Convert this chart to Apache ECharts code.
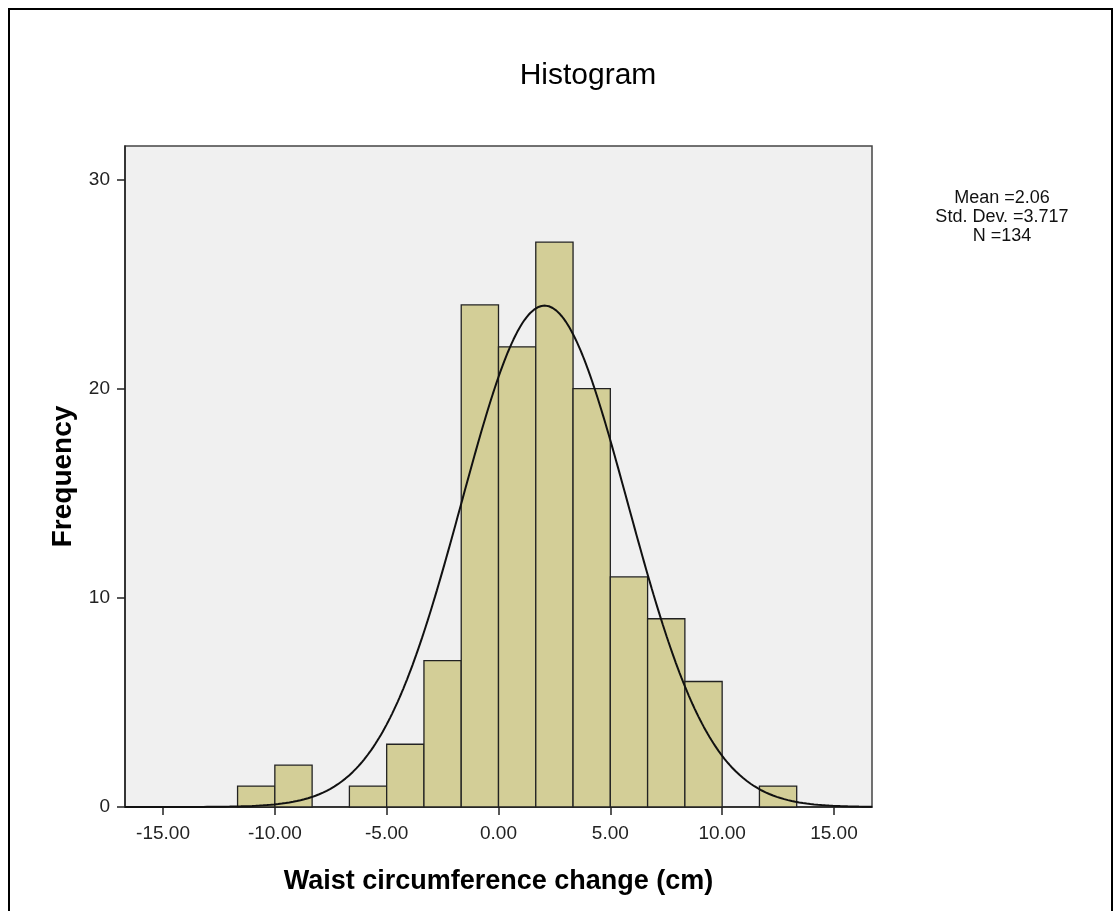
<!DOCTYPE html>
<html>
<head>
<meta charset="utf-8">
<script src="https://cdn.jsdelivr.net/npm/echarts@6/dist/echarts.min.js"></script>
<style>
html,body{margin:0;padding:0;background:#fff;}
#chart{width:1114px;height:911px;}
</style>
</head>
<body>
<div id="chart"></div>
<script>
// ---- data ----
var binWidth = 5 / 3;
var binStarts = [-35/3, -10, -25/3, -20/3, -5, -10/3, -5/3, 0, 5/3, 10/3, 5, 20/3, 25/3, 10, 35/3];
var counts = [1, 2, 0, 1, 3, 7, 24, 22, 27, 20, 11, 9, 6, 0, 1];
var xTickValues = [-15, -10, -5, 0, 5, 10, 15];
var yTickValues = [0, 10, 20, 30];
var meanVal = 2.06;
var sdVal = 3.717;
var nVal = 134;
var statLines = ['Mean =2.06', 'Std. Dev. =3.717', 'N =134'];

var xMin = -16.7, xMax = 16.7, yMax = 31.6;

var barData = [];
for (var i = 0; i < counts.length; i++) {
  if (counts[i] > 0) barData.push([binStarts[i], binStarts[i] + binWidth, counts[i]]);
}

// fitted normal curve from the stated mean / std. dev. / N
var curveData = [];
var steps = 400;
for (var k = 0; k <= steps; k++) {
  var x = xMin + (xMax - xMin) * k / steps;
  var z = (x - meanVal) / sdVal;
  var y = nVal * binWidth * Math.exp(-0.5 * z * z) / (sdVal * Math.sqrt(2 * Math.PI));
  curveData.push([x, y]);
}

var chart = echarts.init(document.getElementById('chart'));
var font = 'Arial, "Liberation Sans", sans-serif';
chart.setOption({
  animation: false,
  backgroundColor: '#fff',
  title: {
    text: 'Histogram',
    left: 583, top: 56, textAlign: 'center',
    textStyle: {fontFamily: font, fontSize: 30, fontWeight: 'normal', color: '#000'}
  },
  grid: {
    left: 125, right: 242, top: 146, bottom: 104,
    show: true, backgroundColor: '#f0f0f0', borderColor: '#444', borderWidth: 1.5
  },
  xAxis: {
    type: 'value', min: xMin, max: xMax,
    name: 'Waist circumference change (cm)',
    nameLocation: 'middle', nameGap: 61,
    nameTextStyle: {fontFamily: font, fontSize: 27, fontWeight: 'bold', color: '#000'},
    axisLine: {show: true, onZero: false, lineStyle: {color: '#222', width: 1.5}},
    axisTick: {show: true, length: 8, inside: false, customValues: xTickValues, lineStyle: {color: '#222', width: 1.5}},
    axisLabel: {customValues: xTickValues, formatter: function (v) { return v.toFixed(2); },
      fontFamily: font, fontSize: 19, color: '#222', margin: 17},
    splitLine: {show: false}
  },
  yAxis: {
    type: 'value', min: 0, max: yMax,
    name: 'Frequency',
    nameLocation: 'middle', nameGap: 48,
    nameTextStyle: {fontFamily: font, fontSize: 28, fontWeight: 'bold', color: '#000'},
    axisLine: {show: true, onZero: false, lineStyle: {color: '#222', width: 1.5}},
    axisTick: {show: true, length: 8, inside: false, customValues: yTickValues, lineStyle: {color: '#222', width: 1.5}},
    axisLabel: {customValues: yTickValues, fontFamily: font, fontSize: 19, color: '#222', margin: 15},
    splitLine: {show: false}
  },
  graphic: [
    {type: 'rect', shape: {x: 9, y: 9, width: 1103, height: 920}, style: {fill: null, stroke: '#000', lineWidth: 2}, silent: true},
    {type: 'text', x: 1002, y: 189, style: {text: statLines.join('\n'), font: '18px ' + font, fill: '#111', textAlign: 'center', textVerticalAlign: 'top', lineHeight: 19}}
  ],
  series: [
    {
      type: 'custom',
      data: barData,
      renderItem: function (params, api) {
        var p0 = api.coord([api.value(0), api.value(2)]);
        var p1 = api.coord([api.value(1), 0]);
        return {
          type: 'rect',
          shape: {x: p0[0], y: p0[1], width: p1[0] - p0[0], height: p1[1] - p0[1]},
          style: {fill: '#d3ce97', stroke: '#222', lineWidth: 1.3}
        };
      },
      encode: {x: [0, 1], y: 2},
      z: 2
    },
    {
      type: 'line', data: curveData, showSymbol: false, smooth: false,
      lineStyle: {color: '#111', width: 2}, z: 3
    }
  ]
});
</script>
</body>
</html>
